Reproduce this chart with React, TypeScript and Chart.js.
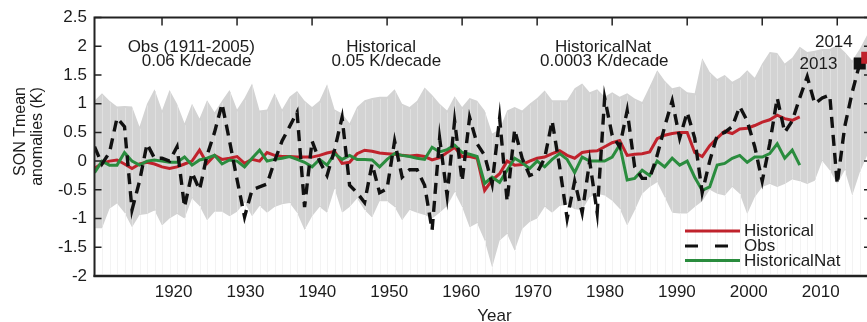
import React, { useEffect, useRef } from "react";
import { Chart, registerables } from "chart.js";

Chart.register(...registerables);

// ---------- data ----------
const YEARS = [
  1911, 1912, 1913, 1914, 1915, 1916, 1917, 1918, 1919, 1920,
  1921, 1922, 1923, 1924, 1925, 1926, 1927, 1928, 1929, 1930,
  1931, 1932, 1933, 1934, 1935, 1936, 1937, 1938, 1939, 1940,
  1941, 1942, 1943, 1944, 1945, 1946, 1947, 1948, 1949, 1950,
  1951, 1952, 1953, 1954, 1955, 1956, 1957, 1958, 1959, 1960,
  1961, 1962, 1963, 1964, 1965, 1966, 1967, 1968, 1969, 1970,
  1971, 1972, 1973, 1974, 1975, 1976, 1977, 1978, 1979, 1980,
  1981, 1982, 1983, 1984, 1985, 1986, 1987, 1988, 1989, 1990,
  1991, 1992, 1993, 1994, 1995, 1996, 1997, 1998, 1999, 2000,
  2001, 2002, 2003, 2004, 2005, 2006, 2007, 2008, 2009, 2010,
  2011, 2012, 2013, 2014,
];

const BAND_UPPER = [
  1.05, 1.18, 1.05, 0.95, 0.96, 0.95, 0.6, 1.0, 1.25, 0.88,
  1.24, 1.0, 0.66, 1.0, 0.74, 1.06, 0.85, 1.05, 1.24, 0.9,
  1.1, 1.35, 0.88, 0.9, 1.18, 0.9, 1.12, 1.22, 1.05, 0.94,
  1.05, 1.34, 0.9, 0.83, 0.66, 0.94, 1.06, 1.1, 1.12, 1.12,
  1.25, 1.0, 0.94, 1.05, 1.28, 1.15, 1.0, 0.88, 1.13, 0.94,
  1.1, 1.05, 0.88, 0.48, 0.55, 0.88, 0.94, 0.88, 1.0, 1.1,
  1.23, 1.06, 1.06, 1.06, 1.27, 1.35, 1.2, 1.25, 1.12, 1.2,
  1.12, 1.18, 1.09, 1.03, 1.3, 1.58, 1.4, 1.27, 1.3, 1.2,
  1.18, 1.79, 1.55, 1.43, 1.5, 1.38, 1.45, 1.58, 1.45, 1.7,
  1.9, 1.88, 1.7, 1.8, 1.99, 1.9, 1.92, 1.95, 1.95, 2.02,
  1.9, 1.75, 1.95, 2.2,
];

const BAND_LOWER = [
  -1.17, -1.17, -0.83, -0.74, -0.9, -1.15, -0.94, -0.92, -0.86, -1.12,
  -1.0, -0.92, -1.0, -0.65, -0.78, -1.03, -0.88, -0.88, -0.96, -0.88,
  -0.72, -0.96, -0.78, -0.9, -0.8, -0.75, -0.73, -0.9, -1.2, -0.96,
  -0.8, -0.9, -0.48, -0.9, -0.8, -0.65, -0.85, -0.98, -0.7, -0.7,
  -0.8, -1.03, -0.85, -0.9, -0.94, -1.0, -0.9, -0.78, -0.54, -0.8,
  -1.15, -1.08, -1.38, -1.85, -1.38, -1.27, -1.56, -1.18, -1.06, -1.0,
  -0.8, -0.9, -0.78, -0.75, -0.84, -0.85, -0.63, -0.57, -0.6, -0.69,
  -0.83, -1.12, -0.86, -0.57, -0.45, -0.37, -0.63, -0.9, -0.91, -0.91,
  -0.8, -0.7, -0.5, -0.57, -0.6, -0.45, -0.57, -0.92, -0.63, -0.45,
  -0.4, -0.45, -0.4, -0.32, -0.35, -0.4, -0.34, 0.0, -0.16, -0.4,
  -0.16, -0.6, -0.2, 0.1,
];

// Obs 1911-2013
const OBS = [
  0.25, -0.05, 0.15, 0.75, 0.6, -0.85, -0.35, 0.3, 0.05, 0.05,
  0.0, 0.25, -0.8, -0.2, -0.5, 0.1, 0.5, 1.0, 0.35, -0.32,
  -0.97, -0.5, -0.45, -0.4, 0.0, 0.35, 0.6, 0.85, -0.8, 0.35,
  0.0, -0.25, 0.2, 0.76, -0.42, -0.55, -0.72, -0.05, -0.55, -0.48,
  0.35, -0.28, -0.15, -0.15, -0.42, -1.2, 0.4, -0.6, 0.7, -0.35,
  0.76, 0.3, 0.1, -0.4, 0.75, -0.7, 0.55, 0.05, -0.25, -0.2,
  0.05, 0.7, -0.1, -1.0, -0.35, -0.9, 0.0, -0.9, 1.1, 0.45,
  0.25, 0.88, -0.1, -0.3, -0.3, 0.1, 0.6, 1.05, 0.4, 0.85,
  0.4, -0.55, 0.0, 0.45, 0.5, 0.6, 0.95, 0.7, 0.25, -0.35,
  0.3, 1.1, 0.5, 0.7, 1.1, 1.47, 1.0, 1.1, 1.15, -0.4,
  0.6, 1.2, 1.7,
];

// Historical 1911-2005
const HISTORICAL = [
  -0.13, -0.04, 0.0, 0.02, -0.05, -0.13, -0.05, -0.02, -0.05, -0.1,
  -0.13, -0.1, -0.05, 0.0, 0.19, -0.04, 0.1, 0.03, 0.05, 0.08,
  -0.04, 0.03, 0.0, 0.15, 0.1, 0.08, 0.08, 0.07, 0.07, 0.07,
  0.1, 0.14, 0.17, -0.04, -0.02, 0.13, 0.19, 0.17, 0.14, 0.13,
  0.12, 0.1, 0.09, 0.1, 0.08, 0.02, 0.06, 0.15, 0.24, 0.08,
  0.08, 0.05, -0.51, -0.33, -0.22, 0.0, -0.07, -0.06, 0.0, 0.05,
  0.07, 0.13, 0.18, 0.1, 0.05, 0.15, 0.17, 0.18, 0.25, 0.32,
  0.36, 0.1, 0.12, 0.13, 0.16, 0.39, 0.45, 0.48, 0.5, 0.5,
  0.15, 0.08, 0.27, 0.4, 0.52, 0.48, 0.56, 0.57, 0.62, 0.68,
  0.72, 0.8, 0.74, 0.71, 0.77,
];

// HistoricalNat 1911-2005
const HISTORICAL_NAT = [
  -0.2, 0.0, -0.07, -0.07, 0.15, 0.0, -0.07, 0.0, 0.02, 0.0,
  -0.02, -0.02, 0.07, -0.07, 0.02, 0.05, 0.1, -0.05, 0.02, 0.0,
  -0.1, 0.05, 0.19, 0.0, 0.03, 0.05, 0.08, 0.03, -0.02, -0.1,
  0.03, -0.07, 0.13, 0.03, 0.1, 0.03, 0.03, 0.02, -0.1, 0.03,
  0.13, 0.1, 0.08, 0.05, 0.03, 0.24, 0.16, 0.2, 0.28, 0.15,
  0.12, 0.08, -0.39, -0.28, -0.37, -0.16, 0.05, -0.03, -0.13, 0.0,
  -0.1, 0.03, 0.13, 0.03, -0.2, 0.07, 0.0, 0.0, 0.0, 0.07,
  0.28, -0.33, -0.3, -0.16, -0.25, 0.0, -0.1, 0.05, -0.07, 0.0,
  -0.28, -0.51, -0.45, -0.07, -0.04, 0.05, 0.1, -0.02, 0.07, 0.07,
  0.13, 0.3, 0.05, 0.19, -0.07,
];

const MARK_YEARS = [2013, 2014];
const MARK_VALUES = [1.7, 1.8];
const MARK_LABELS = ["2013", "2014"];

const TOP_TICK_YEARS = [1920, 1930, 1940, 1950, 1960, 1970, 1980, 1990, 2000, 2010];
const BOTTOM_TICK_YEARS = [1920, 1930, 1940, 1950, 1960, 1970, 1980, 1990, 2000, 2010];
const BOTTOM_TICK_LABELS = ["1920", "1930", "1940", "1950", "1960", "1970", "1980", "1990", "2000", "2010"];
const Y_TICKS = [-2, -1.5, -1, -0.5, 0, 0.5, 1, 1.5, 2, 2.5];

const PANEL_TITLES = ["Obs (1911-2005)", "Historical", "HistoricalNat"];
const PANEL_TRENDS = ["0.06 K/decade", "0.05 K/decade", "0.0003 K/decade"];

// ---------- styles ----------
const RED = "#c0222c";
const GREEN = "#2a8c3e";
const BLACK = "#111111";
const BAND = "#d3d3d3";
const AXIS = "#222222";
const TEXT = "#1c1c1c";
const FONT = '"Liberation Sans", Arial, Helvetica, sans-serif';

const pts = (vals: number[]) => vals.map((v, i) => ({ x: YEARS[i], y: v }));

const decorPlugin = {
  id: "decor",
  afterDatasetDraw(chart: any, args: any) {
    if (args.index !== 0) return;
    const { ctx, chartArea } = chart;
    const xs = chart.scales.x;
    const ys = chart.scales.y;
    ctx.save();
    ctx.lineWidth = 1;
    YEARS.forEach((yr, i) => {
      const px = Math.round(xs.getPixelForValue(yr)) + 0.5;
      const yU = ys.getPixelForValue(BAND_UPPER[i]);
      const yL = ys.getPixelForValue(BAND_LOWER[i]);
      ctx.strokeStyle = "#e0e0e0";
      ctx.beginPath();
      ctx.moveTo(px, yU + 2);
      ctx.lineTo(px, yL - 1);
      ctx.stroke();
      ctx.strokeStyle = "#f3f3f3";
      ctx.beginPath();
      ctx.moveTo(px, yL);
      ctx.lineTo(px, chartArea.bottom - 2);
      ctx.stroke();
    });
    ctx.restore();
  },
  afterDraw(chart: any) {
    const { ctx, chartArea } = chart;
    const xs = chart.scales.x;
    const ys = chart.scales.y;
    ctx.save();
    // frame (top, left, bottom)
    ctx.strokeStyle = AXIS;
    ctx.lineWidth = 2;
    ctx.beginPath();
    ctx.moveTo(chartArea.left - 1, chartArea.top);
    ctx.lineTo(chartArea.right, chartArea.top);
    ctx.moveTo(chartArea.left, chartArea.top - 1);
    ctx.lineTo(chartArea.left, chartArea.bottom + 1);
    ctx.stroke();
    ctx.lineWidth = 2.5;
    ctx.beginPath();
    ctx.moveTo(chartArea.left - 1, chartArea.bottom);
    ctx.lineTo(chartArea.right, chartArea.bottom);
    ctx.stroke();

    // inward ticks
    ctx.lineWidth = 1.5;
    TOP_TICK_YEARS.forEach((yr) => {
      const px = xs.getPixelForValue(yr);
      ctx.beginPath();
      ctx.moveTo(px, chartArea.top);
      ctx.lineTo(px, chartArea.top + 8);
      ctx.stroke();
    });
    Y_TICKS.forEach((v) => {
      const py = ys.getPixelForValue(v);
      ctx.beginPath();
      ctx.moveTo(chartArea.left, py);
      ctx.lineTo(chartArea.left + 7, py);
      ctx.moveTo(chartArea.right - 7, py);
      ctx.lineTo(chartArea.right, py);
      ctx.stroke();
    });

    // texts
    ctx.fillStyle = TEXT;
    ctx.font = `17px ${FONT}`;
    ctx.textAlign = "center";
    ctx.textBaseline = "alphabetic";
    const titleX = [1923.9, 1949.2, 1978.8];
    const trendX = [1924.6, 1949.9, 1978.95];
    PANEL_TITLES.forEach((t, i) => {
      ctx.fillText(t, xs.getPixelForValue(titleX[i]), ys.getPixelForValue(1.9));
      ctx.fillText(PANEL_TRENDS[i], xs.getPixelForValue(trendX[i]), ys.getPixelForValue(1.655));
    });
    // year labels of markers
    ctx.fillText(MARK_LABELS[1], xs.getPixelForValue(2009.55), ys.getPixelForValue(1.99));
    ctx.fillText(MARK_LABELS[0], xs.getPixelForValue(2007.5), ys.getPixelForValue(1.6));

    // legend
    const lx0 = 685, lx1 = 740, ltx = 744;
    const rows = [
      { label: "Historical", color: RED, dash: [] as number[], y: 231 },
      { label: "Obs", color: BLACK, dash: [13, 17], y: 246 },
      { label: "HistoricalNat", color: GREEN, dash: [] as number[], y: 260.5 },
    ];
    rows.forEach((r) => {
      ctx.strokeStyle = r.color;
      ctx.lineWidth = 3.2;
      ctx.setLineDash(r.dash);
      ctx.beginPath();
      ctx.moveTo(lx0, r.y);
      ctx.lineTo(lx1, r.y);
      ctx.stroke();
      ctx.setLineDash([]);
      ctx.textAlign = "left";
      ctx.textBaseline = "middle";
      ctx.fillText(r.label, ltx, r.y + 0.5);
    });

    // axis titles
    ctx.textAlign = "center";
    ctx.textBaseline = "alphabetic";
    ctx.font = `17px ${FONT}`;
    ctx.fillText("Year", 494.5, 321);
    ctx.font = `16px ${FONT}`;
    ctx.save();
    ctx.translate(25, 131.5);
    ctx.rotate(-Math.PI / 2);
    ctx.fillText("SON Tmean", 0, 0);
    ctx.restore();
    ctx.save();
    ctx.translate(42, 136.5);
    ctx.rotate(-Math.PI / 2);
    ctx.fillText("anomalies (K)", 0, 0);
    ctx.restore();
    ctx.restore();
  },
};

export default function App() {
  const canvasRef = useRef<HTMLCanvasElement>(null);

  useEffect(() => {
    document.body.style.margin = "0";
    document.body.style.overflow = "hidden";
    Chart.defaults.font.family = FONT;
    const canvas = canvasRef.current!;
    const chart = new Chart(canvas, {
      type: "line",
      data: {
        datasets: [
          {
            label: "Model range max",
            data: pts(BAND_UPPER),
            borderWidth: 0,
            borderColor: BAND,
            backgroundColor: BAND,
            pointRadius: 0,
            fill: "+1",
            order: 5,
          },
          {
            label: "Model range min",
            data: pts(BAND_LOWER),
            borderWidth: 0,
            borderColor: BAND,
            pointRadius: 0,
            fill: false,
            order: 6,
          },
          {
            label: "Historical",
            data: pts(HISTORICAL),
            borderColor: RED,
            borderWidth: 3,
            pointRadius: 0,
            fill: false,
            order: 3,
          },
          {
            label: "HistoricalNat",
            data: pts(HISTORICAL_NAT),
            borderColor: GREEN,
            borderWidth: 3,
            pointRadius: 0,
            fill: false,
            order: 2,
          },
          {
            label: "Obs",
            data: pts(OBS),
            borderColor: BLACK,
            borderWidth: 3.4,
            borderDash: [11, 7],
            borderCapStyle: "butt",
            pointRadius: 0,
            fill: false,
            order: 1,
          },
          {
            label: MARK_LABELS[0],
            data: [{ x: MARK_YEARS[0], y: MARK_VALUES[0] }],
            showLine: false,
            pointStyle: "rect",
            pointRadius: 8.5,
            pointBorderWidth: 0,
            pointBackgroundColor: BLACK,
            borderColor: BLACK,
            order: 0,
          },
          {
            label: MARK_LABELS[1],
            data: [{ x: MARK_YEARS[1], y: MARK_VALUES[1] }],
            showLine: false,
            pointStyle: "rect",
            pointRadius: 8.5,
            pointBorderWidth: 0,
            pointBackgroundColor: RED,
            borderColor: RED,
            order: -1,
          },
        ],
      },
      options: {
        responsive: false,
        animation: false,
        events: [],
        layout: { autoPadding: false, padding: { left: 58.5, top: 17.5, right: 0, bottom: 0 } },
        plugins: {
          legend: { display: false },
          tooltip: { enabled: false },
        },
        scales: {
          x: {
            type: "linear",
            position: "top",
            min: 1911,
            max: 2014.5,
            ticks: { display: false },
            grid: { display: false, drawTicks: false },
            border: { display: false },
            afterFit: (s: any) => {
              s.height = 0;
              s.paddingLeft = 0;
              s.paddingRight = 0;
            },
          },
          xl: {
            type: "linear",
            position: "bottom",
            min: 1909,
            max: 2017,
            afterBuildTicks: (s: any) => {
              s.ticks = BOTTOM_TICK_YEARS.map((v) => ({ value: v }));
            },
            ticks: {
              autoSkip: false,
              maxRotation: 0,
              padding: 6,
              color: TEXT,
              font: { size: 17, family: FONT },
              callback: (v: any) => {
                const i = BOTTOM_TICK_YEARS.indexOf(Number(v));
                return i >= 0 ? BOTTOM_TICK_LABELS[i] : "";
              },
            },
            grid: { display: false, drawTicks: false },
            border: { display: false },
            afterFit: (s: any) => {
              s.height = 46;
              s.paddingLeft = 0;
              s.paddingRight = 0;
            },
          },
          y: {
            type: "linear",
            position: "left",
            min: -2,
            max: 2.5,
            afterBuildTicks: (s: any) => {
              s.ticks = Y_TICKS.map((v) => ({ value: v }));
            },
            ticks: {
              padding: 7.5,
              color: TEXT,
              font: { size: 17, family: FONT },
              callback: (v: any) => String(v),
            },
            grid: { display: false, drawTicks: false },
            border: { display: false },
            afterFit: (s: any) => {
              s.width = 36;
              s.paddingTop = 0;
              s.paddingBottom = 0;
            },
          },
        },
      },
      plugins: [decorPlugin],
    });
    return () => chart.destroy();
  }, []);

  return (
    <div style={{ width: 867, height: 322, overflow: "hidden", position: "relative" }}>
      <canvas ref={canvasRef} width={871} height={322} style={{ display: "block" }} />
    </div>
  );
}
